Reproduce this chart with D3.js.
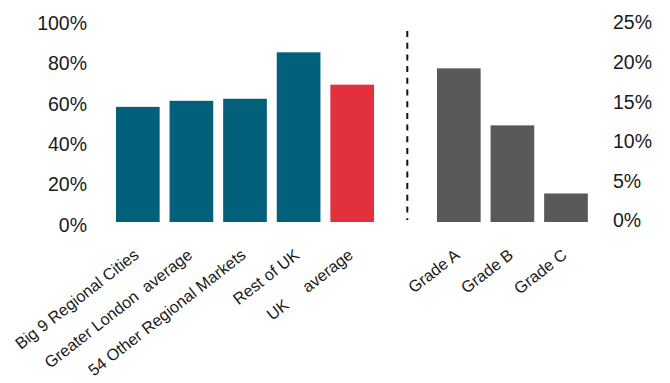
<!DOCTYPE html>
<html>
<head>
<meta charset="utf-8">
<script src="https://cdn.jsdelivr.net/npm/d3@7"></script>
<style>
  body { margin: 0; background: #fff; }
  svg { display: block; font-family: "Liberation Sans", Arial, sans-serif; }
</style>
</head>
<body>
<div class="container"></div>
<script>
// left panel: share by market
const regions = ["Big 9 Regional Cities", "Greater London  average", "54 Other Regional Markets", "Rest of UK", "UK\u00a0\u00a0\u00a0\u00a0\u00a0average"];
const regionValues = [0.57, 0.60, 0.61, 0.84, 0.68];
const leftTicks = [0, 0.2, 0.4, 0.6, 0.8, 1.0];

// right panel: by grade
const grades = ["Grade A", "Grade B", "Grade C"];
const gradeValues = [0.194, 0.122, 0.036];
const rightTicks = [0, 0.05, 0.10, 0.15, 0.20, 0.25];

const width = 670;
const height = 383;
const teal = "#03607a";
const red = "#e3303d";
const grey = "#58595b";
const textCol = "#1a1a1a";

const svg = d3.select(".container")
    .append("svg")
    .attr("width", width)
    .attr("height", height);

const yLeft = d3.scaleLinear().domain([0, 1]).range([222, 20]);
const yRight = d3.scaleLinear().domain([0, 0.25]).range([222, 24]);

const xLeft = d3.scaleBand().domain(regions).range([111, 379])
    .paddingInner(0.185).paddingOuter(0.0925);
const xRight = d3.scaleBand().domain(grades).range([432, 592.8])
    .paddingInner(0.185).paddingOuter(0.0925);

// left axis (no line, labels only)
const leftAxis = svg.append("g")
    .attr("transform", "translate(87,3)")
    .call(d3.axisLeft(yLeft).tickValues(leftTicks).tickSize(0).tickPadding(0).tickFormat(d3.format(".0%")));
leftAxis.select(".domain").remove();
leftAxis.selectAll("text")
    .attr("font-size", "19.5px")
    .attr("font-family", "Liberation Sans, Arial, sans-serif")
    .attr("fill", textCol);

// right axis
const rightAxis = svg.append("g")
    .attr("transform", "translate(613,-1.3)")
    .call(d3.axisRight(yRight).tickValues(rightTicks).tickSize(0).tickPadding(0).tickFormat(d3.format(".0%")));
rightAxis.select(".domain").remove();
rightAxis.selectAll("text")
    .attr("font-size", "19.5px")
    .attr("font-family", "Liberation Sans, Arial, sans-serif")
    .attr("fill", textCol);

// bars
svg.append("g").selectAll("rect")
    .data(regions)
    .join("rect")
    .attr("x", d => xLeft(d))
    .attr("y", (d, i) => yLeft(regionValues[i]))
    .attr("width", xLeft.bandwidth())
    .attr("height", (d, i) => yLeft(0) - yLeft(regionValues[i]))
    .attr("fill", (d, i) => i == regions.length - 1 ? red : teal);

svg.append("g").selectAll("rect")
    .data(grades)
    .join("rect")
    .attr("x", d => xRight(d))
    .attr("y", (d, i) => yRight(gradeValues[i]))
    .attr("width", xRight.bandwidth())
    .attr("height", (d, i) => yRight(0) - yRight(gradeValues[i]))
    .attr("fill", grey);

// divider
svg.append("line")
    .attr("x1", 407.3).attr("x2", 407.3)
    .attr("y1", 31).attr("y2", 220)
    .attr("stroke", "#111")
    .attr("stroke-width", 2)
    .attr("stroke-dasharray", "6,5.7");

// category labels, rotated
function catLabels(scale, cats) {
    svg.append("g").selectAll("text")
        .data(cats)
        .join("text")
        .attr("transform", d => `translate(${scale(d) + scale.bandwidth() / 2 + 2},257) rotate(-38)`)
        .attr("text-anchor", "end")
        .attr("font-size", "16.3px")
        .attr("fill", textCol)
        .style("white-space", "pre")
        .text(d => d);
}
catLabels(xLeft, regions);
catLabels(xRight, grades);
</script>
</body>
</html>
